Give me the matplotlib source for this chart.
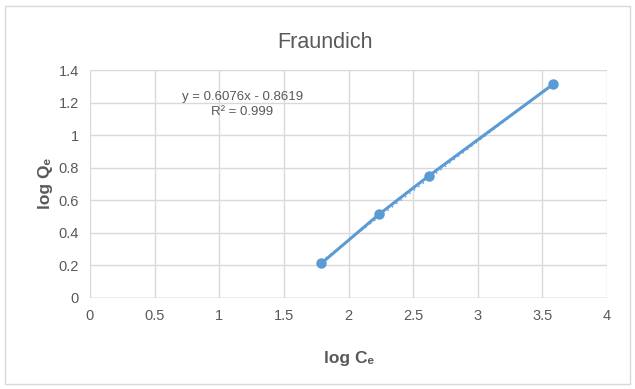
import matplotlib.pyplot as plt
import numpy as np
from matplotlib.patches import Rectangle

# Freundlich isotherm, linearised
log_ce = [1.79, 2.235, 2.625, 3.585]
log_qe = [0.213, 0.513, 0.752, 1.314]
slope, intercept = 0.6076, -0.8619
r_squared = 0.999

x_ticks = [0, 0.5, 1, 1.5, 2, 2.5, 3, 3.5, 4]
y_ticks = [0, 0.2, 0.4, 0.6, 0.8, 1, 1.2, 1.4]

BLUE = "#5B9BD5"
GRID = "#D9D9D9"
TEXT = "#595959"

plt.rcParams["font.family"] = ["Liberation Sans", "DejaVu Sans"]

fig = plt.figure(figsize=(6.35, 3.89), dpi=100)
ax = fig.add_axes([0.1417, 0.234, 0.8143, 0.586])

fig.patches.append(Rectangle((0.008, 0.013), 0.984, 0.972, transform=fig.transFigure,
                             fill=False, edgecolor=GRID, linewidth=1.0))

ax.plot(log_ce, log_qe, color=BLUE, linewidth=2.2, marker="o", markersize=6.5,
        zorder=3, clip_on=False)
# linear trendline, drawn thin and dotted over the series line
fit_x = np.array([log_ce[0], log_ce[-1]])
ax.plot(fit_x, slope * fit_x + intercept, color=BLUE, linewidth=1.0,
        linestyle=(0, (1, 3)), zorder=4)

ax.set_xlim(0, 4)
ax.set_ylim(0, 1.4)
ax.set_xticks(x_ticks, [f"{t:g}" for t in x_ticks])
ax.set_yticks(y_ticks, [f"{t:g}" for t in y_ticks])
ax.grid(True, color=GRID, linewidth=1.0)
ax.set_axisbelow(True)
for spine in ax.spines.values():
    spine.set_visible(False)
ax.axhline(0, color="#BFBFBF", linewidth=1.0, zorder=1)
ax.tick_params(length=0, labelsize=10.5, colors=TEXT, pad=8)

ax.text(1.18, 1.19, f"y = {slope}x - {abs(intercept)}\nR² = {r_squared}",
        ha="center", va="center", fontsize=9.5, color=TEXT, linespacing=1.35)

ax.set_xlabel("log Cₑ", fontsize=12.5, fontweight="bold", color=TEXT, labelpad=20)
ax.set_ylabel("log Qₑ", fontsize=12.5, fontweight="bold", color=TEXT, labelpad=4)
fig.text(0.512, 0.892, "Fraundich", ha="center", va="center", fontsize=15.5, color=TEXT)

fig.savefig("out.png", dpi=100, facecolor="white")
